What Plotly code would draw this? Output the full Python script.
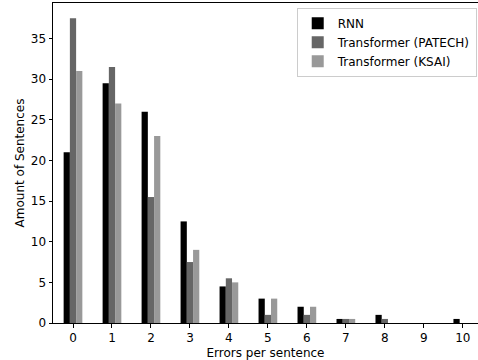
import plotly.graph_objects as go

errors = [0, 1, 2, 3, 4, 5, 6, 7, 8, 9, 10]
rnn = [21, 29.5, 26, 12.5, 4.5, 3, 2, 0.5, 1, 0, 0.5]
patech = [37.5, 31.5, 15.5, 7.5, 5.5, 1, 1, 0.5, 0.5, 0, 0]
ksai = [31, 27, 23, 9, 5, 3, 2, 0.5, 0, 0, 0]

names = ["RNN", "Transformer (PATECH)", "Transformer (KSAI)"]
colors = ["#000000", "#666666", "#999999"]

font = dict(family="DejaVu Sans", size=12, color="#000000")

fig = go.Figure()
for name, vals, c in zip(names, [rnn, patech, ksai], colors):
    fig.add_trace(go.Bar(x=errors, y=vals, name=name, marker=dict(color=c, line=dict(width=0))))

fig.update_layout(
    width=478, height=360, autosize=False,
    margin=dict(l=53, r=0, t=3, b=37, pad=0),
    paper_bgcolor="white", plot_bgcolor="white",
    barmode="group", bargap=0.52, bargroupgap=0,
    font=font,
    showlegend=True,
    legend=dict(x=0.997, xanchor="right", y=0.985, yanchor="top",
                bordercolor="#cccccc", borderwidth=1, bgcolor="rgba(255,255,255,0.8)",
                font=font, tracegroupgap=0),
    xaxis=dict(range=[-0.513, 10.39], tickmode="array", tickvals=errors,
               ticktext=[str(e) for e in errors], automargin=False,
               showline=True, linecolor="black", linewidth=1, mirror=True,
               ticks="outside", ticklen=3.5, tickcolor="black", showgrid=False, zeroline=False,
               tickfont=font,
               title=dict(text="Errors per sentence", font=font)),
    yaxis=dict(range=[0, 39.375], tickmode="array", tickvals=[0, 5, 10, 15, 20, 25, 30, 35],
               automargin=False, tickfont=font,
               showline=True, linecolor="black", linewidth=1,
               ticks="outside", ticklen=3.5, tickcolor="black", showgrid=False, zeroline=False,
               title=dict(text="Amount of Sentences", font=font, standoff=3)),
)

fig.write_html("out.html", config={"displayModeBar": False},
               post_script="document.body.style.margin='0';document.body.style.overflow='hidden';")
